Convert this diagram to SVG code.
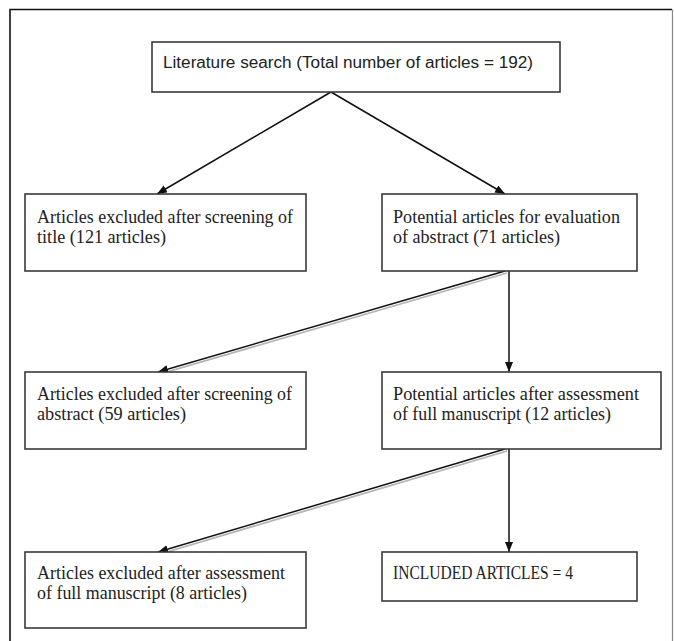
<svg xmlns="http://www.w3.org/2000/svg" width="674" height="641" viewBox="0 0 674 641">
<style>
.box{fill:#fff;stroke:#3a3a3a;stroke-width:1.6}
.ser{font-family:"Liberation Serif","Times New Roman",serif;font-size:19px;fill:#222}
.san{font-family:"Liberation Sans",Arial,sans-serif;font-size:16px;fill:#222}
.ln{stroke:#111;stroke-width:1.5;fill:none}
.sh{stroke:#b5b5b5;stroke-width:1.8;fill:none}
</style>
<defs>
<marker id="ah" markerUnits="userSpaceOnUse" markerWidth="11" markerHeight="9" refX="10" refY="4" orient="auto">
<path d="M0,0 L10,4 L0,8 z" fill="#111"/>
</marker>
</defs>
<rect width="674" height="641" fill="#fff"/>
<g id="frame">
<path d="M10,641 V9.5 H672" fill="none" stroke="#111" stroke-width="1.6"/>
<path d="M672.5,9.5 V641" fill="none" stroke="#888" stroke-width="1.2"/>
</g>
<g id="connectors">
<line class="ln" x1="331" y1="92" x2="157" y2="194" marker-end="url(#ah)"/>
<line class="ln" x1="331" y1="92" x2="505" y2="194" marker-end="url(#ah)"/>
<line class="sh" x1="507" y1="273" x2="160" y2="374"/>
<line class="ln" x1="505" y1="271" x2="158" y2="372" marker-end="url(#ah)"/>
<line class="ln" x1="509" y1="271" x2="509" y2="372" marker-end="url(#ah)"/>
<line class="sh" x1="507" y1="451" x2="160" y2="554"/>
<line class="ln" x1="505" y1="449" x2="158" y2="552" marker-end="url(#ah)"/>
<line class="ln" x1="509" y1="449" x2="509" y2="552" marker-end="url(#ah)"/>
</g>
<g id="n_search">
<rect class="box" x="152" y="42" width="408" height="50"/>
<text class="san" x="163" y="68" textLength="370" lengthAdjust="spacingAndGlyphs">Literature search (Total number of articles = 192)</text>
</g>
<g id="n_excl_title">
<rect class="box" x="25" y="194" width="281" height="77"/>
<text class="ser" x="37" y="223" textLength="256" lengthAdjust="spacingAndGlyphs">Articles excluded after screening of</text>
<text class="ser" x="37" y="243" textLength="129" lengthAdjust="spacingAndGlyphs">title (121 articles)</text>
</g>
<g id="n_pot_abstract">
<rect class="box" x="382" y="194" width="255" height="77"/>
<text class="ser" x="393" y="223" textLength="227" lengthAdjust="spacingAndGlyphs">Potential articles for evaluation</text>
<text class="ser" x="393" y="243" textLength="167" lengthAdjust="spacingAndGlyphs">of abstract (71 articles)</text>
</g>
<g id="n_excl_abstract">
<rect class="box" x="25" y="372" width="281" height="77"/>
<text class="ser" x="37" y="400" textLength="255" lengthAdjust="spacingAndGlyphs">Articles excluded after screening of</text>
<text class="ser" x="37" y="420" textLength="149" lengthAdjust="spacingAndGlyphs">abstract (59 articles)</text>
</g>
<g id="n_pot_full">
<rect class="box" x="382" y="372" width="279" height="77"/>
<text class="ser" x="393" y="400" textLength="246" lengthAdjust="spacingAndGlyphs">Potential articles after assessment</text>
<text class="ser" x="393" y="420" textLength="218" lengthAdjust="spacingAndGlyphs">of full manuscript (12 articles)</text>
</g>
<g id="n_excl_full">
<rect class="box" x="25" y="552" width="281" height="76"/>
<text class="ser" x="37" y="579" textLength="248" lengthAdjust="spacingAndGlyphs">Articles excluded after assessment</text>
<text class="ser" x="37" y="599" textLength="210" lengthAdjust="spacingAndGlyphs">of full manuscript (8 articles)</text>
</g>
<g id="n_included">
<rect class="box" x="382" y="552" width="255" height="49"/>
<text class="ser" x="393" y="579" textLength="180" lengthAdjust="spacingAndGlyphs">INCLUDED ARTICLES = 4</text>
</g>
</svg>
